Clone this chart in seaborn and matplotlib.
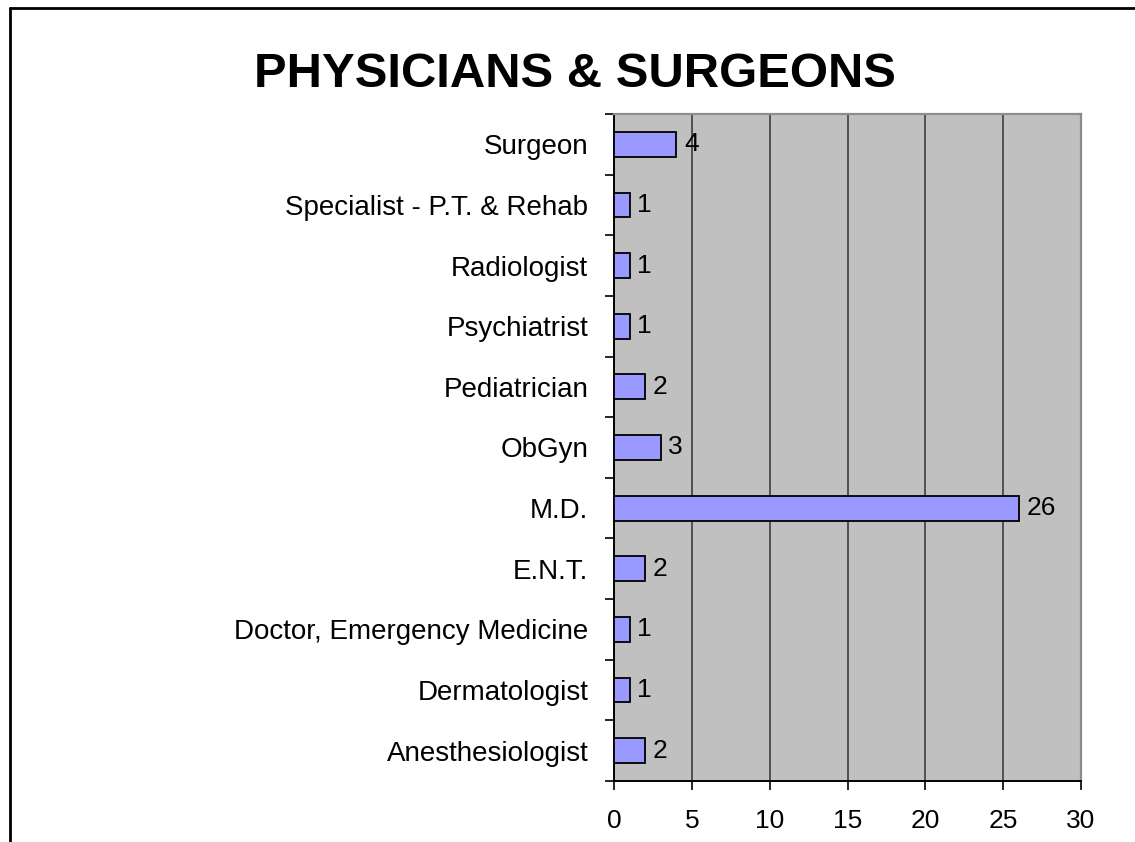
import matplotlib
matplotlib.use("Agg")
import matplotlib.pyplot as plt
from matplotlib.lines import Line2D
from matplotlib.ticker import FixedLocator
import seaborn as sns

# --- data (top to bottom) ---
specialties = [
    "Surgeon",
    "Specialist - P.T. & Rehab",
    "Radiologist",
    "Psychiatrist",
    "Pediatrician",
    "ObGyn",
    "M.D.",
    "E.N.T.",
    "Doctor, Emergency Medicine",
    "Dermatologist",
    "Anesthesiologist",
]
counts = [4, 1, 1, 1, 2, 3, 26, 2, 1, 1, 2]
x_ticks = [0, 5, 10, 15, 20, 25, 30]

sns.set_style("white")
plt.rcParams["font.family"] = ["Liberation Sans", "DejaVu Sans"]
plt.rcParams["text.color"] = "black"
plt.rcParams["xtick.labelcolor"] = "black"
plt.rcParams["ytick.labelcolor"] = "black"

W, H = 1135, 842
fig = plt.figure(figsize=(W / 100, H / 100), dpi=100)
ax = fig.add_axes([614 / W, 1 - 781 / H, (1081 - 614) / W, (781 - 114) / H])
ax.set_facecolor("#C0C0C0")

sns.barplot(x=counts, y=specialties, orient="h", color="#9999FF", saturation=1,
            edgecolor="black", linewidth=1.3, width=0.41, ax=ax, zorder=3)

for c in ax.containers:
    ax.bar_label(c, padding=5.5, fontsize=19, color="black")

ax.set_xlim(0, 30)
ax.set_xticks(x_ticks)
ax.set_xlabel("")
ax.set_ylabel("")
ax.grid(axis="x", color="#505050", linewidth=1.4, zorder=1)
ax.grid(axis="y", visible=False)
ax.set_axisbelow(True)

# y ticks sit between categories, labels without tick marks
n = len(specialties)
ax.yaxis.set_minor_locator(FixedLocator([i - 0.5 for i in range(n + 1)]))
ax.tick_params(axis="y", which="major", length=0, pad=18.5, labelsize=20)
ax.tick_params(axis="y", which="minor", length=6.5, width=1.2, color="black",
               direction="out", left=True)
ax.tick_params(axis="x", length=6.5, width=1.2, color="black", direction="out",
               pad=14, labelsize=19, bottom=True)

for side in ["left", "bottom"]:
    ax.spines[side].set_color("black")
    ax.spines[side].set_linewidth(1.4)
for side in ["top", "right"]:
    ax.spines[side].set_color("#8C8C8C")
    ax.spines[side].set_linewidth(1.6)

fig.text(575 / W, 1 - 87 / H, "PHYSICIANS & SURGEONS", ha="center", va="baseline",
         fontsize=35.3, fontweight="bold", color="black")

# chart frame (only left and top edges fall inside the picture)
fig.add_artist(Line2D([10 / W, 10 / W], [0, 1 - 8 / H], color="black", linewidth=2,
                      transform=fig.transFigure))
fig.add_artist(Line2D([10 / W, 1], [1 - 8 / H, 1 - 8 / H], color="black", linewidth=2,
                      transform=fig.transFigure))

fig.savefig("out.png", dpi=100)
